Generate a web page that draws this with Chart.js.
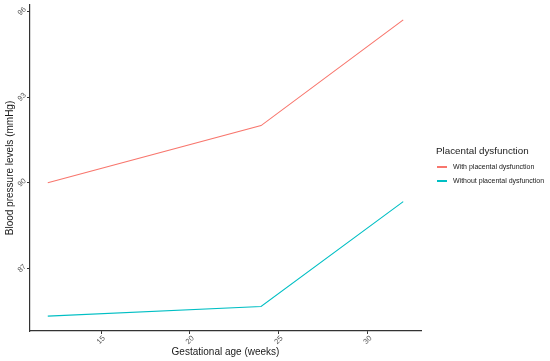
<!DOCTYPE html>
<html>
<head>
<meta charset="utf-8">
<script src="https://cdn.jsdelivr.net/npm/chart.js@4/dist/chart.umd.min.js"></script>
<style>
  body { margin: 0; background: #fff; }
  #wrap { position: relative; width: 550px; height: 361px; font-family: "Liberation Sans", Arial, sans-serif; }
  #legend { position: absolute; left: 436px; top: 145px; color: #1a1a1a; white-space: nowrap; }
  #legend .ttl { font-size: 9.8px; margin-bottom: 4px; }
  #legend .it { font-size: 7px; height: 14px; line-height: 14px; display: flex; align-items: center; }
  #legend .sw { flex-shrink: 0; width: 10px; height: 1.3px; margin: 0 6px 0 1px; }
</style>
</head>
<body>
<div id="wrap">
  <canvas id="grafico" width="550" height="361"></canvas>
  <div id="legend"></div>
</div>
<script>
var semanas = [12, 24, 32];
var conDisfuncion = [90.0, 92.0, 95.7];
var sinDisfuncion = [85.33, 85.67, 89.34];
var series = ['With placental dysfunction', 'Without placental dysfunction'];
var colores = ['#F8766D', '#00BFC4'];
var xTicks = [15, 20, 25, 30];
var yTicks = [87, 90, 93, 96];

function puntos(vals){
  return semanas.map(function(s, i){ return {x: s, y: vals[i]}; });
}

// leyenda en html
var leg = '<div class="ttl">Placental dysfunction</div>';
series.forEach(function(n, i){
  leg += '<div class="it"><span class="sw" style="background-color:' + colores[i] + '"></span><span>' + n + '</span></div>';
});
document.getElementById('legend').innerHTML = leg;

// etiquetas y titulos a mano (rotadas como en ggplot)
var etiquetas = {
  id: 'etiquetas',
  afterDraw: function(chart){
    var ctx = chart.ctx, xs = chart.scales.x, ys = chart.scales.y, a = chart.chartArea;
    ctx.save();
    ctx.fillStyle = '#555';
    ctx.font = '7.5px "Liberation Sans", Arial, sans-serif';
    ctx.textAlign = 'center';
    ctx.textBaseline = 'middle';
    xTicks.forEach(function(t){
      ctx.save();
      ctx.translate(xs.getPixelForValue(t), a.bottom + 9);
      ctx.rotate(-Math.PI / 4);
      ctx.fillText(String(t), 0, 0);
      ctx.restore();
    });
    yTicks.forEach(function(t){
      ctx.save();
      ctx.translate(a.left - 8, ys.getPixelForValue(t));
      ctx.rotate(-Math.PI / 4);
      ctx.fillText(String(t), 0, 0);
      ctx.restore();
    });
    ctx.fillStyle = '#1a1a1a';
    ctx.font = '10px "Liberation Sans", Arial, sans-serif';
    ctx.fillText('Gestational age (weeks)', (a.left + a.right) / 2, 352);
    ctx.save();
    ctx.translate(10, (a.top + a.bottom) / 2);
    ctx.rotate(-Math.PI / 2);
    ctx.fillText('Blood pressure levels (mmHg)', 0, 0);
    ctx.restore();
    ctx.restore();
  }
};

new Chart(document.getElementById('grafico').getContext('2d'), {
  type: 'line',
  data: {
    datasets: [{
      label: series[0],
      data: puntos(conDisfuncion),
      borderColor: colores[0],
      borderWidth: 1.1,
      pointRadius: 0,
      tension: 0
    },{
      label: series[1],
      data: puntos(sinDisfuncion),
      borderColor: colores[1],
      borderWidth: 1.1,
      pointRadius: 0,
      tension: 0
    }]
  },
  options: {
    responsive: false,
    animation: false,
    layout: { padding: { top: 5, right: 129, left: 0, bottom: 0 } },
    plugins: { legend: { display: false }, tooltip: { enabled: false } },
    scales: {
      x: {
        type: 'linear',
        min: 11, max: 33,
        afterFit: function(s){ s.height = 30; },
        afterBuildTicks: function(s){ s.ticks = xTicks.map(function(v){ return {value: v}; }); },
        ticks: { display: false },
        grid: { drawOnChartArea: false, drawTicks: true, tickLength: 3, color: '#333' },
        border: { color: '#333', width: 1.2 }
      },
      y: {
        min: 84.81, max: 96.22,
        afterFit: function(s){ s.width = 30; },
        afterBuildTicks: function(s){ s.ticks = yTicks.map(function(v){ return {value: v}; }); },
        ticks: { display: false },
        grid: { drawOnChartArea: false, drawTicks: true, tickLength: 3, color: '#333' },
        border: { color: '#333', width: 1.2 }
      }
    }
  },
  plugins: [etiquetas]
});
</script>
</body>
</html>
